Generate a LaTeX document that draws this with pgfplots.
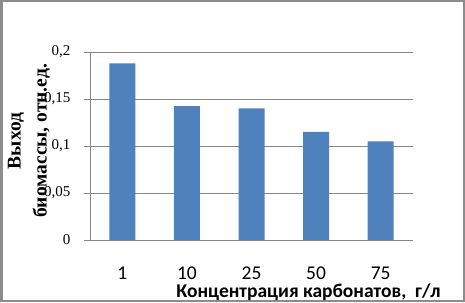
\documentclass[border=0pt]{standalone}
\usepackage{pgfplots}
\pgfplotsset{compat=1.18}
\usepackage{fontspec}
\setmainfont{Liberation Serif}
\newfontfamily\calibri{Carlito}
\definecolor{barblue}{HTML}{4F81BD}
\definecolor{gridgray}{HTML}{868686}
\definecolor{framegray}{HTML}{8C8C8C}
\begin{document}
\begin{tikzpicture}[x=1pt,y=1pt]
\useasboundingbox (0,0) rectangle (465,302);
\fill[white] (0,0) rectangle (465,302);
\draw[framegray, line width=2.5pt] (1.25,1.25) rectangle (463.75,300.75);
\begin{axis}[
  at={(90pt,62pt)}, anchor=south west,
  scale only axis, width=323pt, height=188pt,
  xmin=-0.5, xmax=4.5, ymin=0, ymax=0.2,
  axis x line*=bottom, axis y line*=left,
  axis line style={gridgray, line width=0.8pt, -},
  ytick={0,0.05,0.1,0.15,0.2},
  yticklabels={0,{0,05},{0,1},{0,15},{0,2}},
  xtick={0,1,2,3,4},
  xticklabels={1,10,25,50,75},
  major x tick style={draw=none},
  extra x ticks={-0.5,0.5,1.5,2.5,3.5,4.5},
  extra x tick labels={},
  extra x tick style={grid=none, major tick length=7pt, tick style={gridgray, line width=0.8pt}},
  tick align=outside,
  major y tick style={gridgray, line width=0.8pt},
  major tick length=6pt,
  ymajorgrids, grid style={gridgray, line width=0.8pt},
  yticklabel style={font=\fontsize{15}{17}\selectfont, xshift=-10pt},
  xticklabel style={font=\calibri\fontsize{19.5}{22}\selectfont, anchor=base, yshift=-33pt},
  ybar, bar width=26pt,
]
\addplot[fill=barblue, draw=none] coordinates {(0,0.188) (1,0.1425) (2,0.140) (3,0.115) (4,0.105)};
\end{axis}
\node[font=\calibri\bfseries\fontsize{19.5}{24}\selectfont, anchor=base] at (308.5,5) {Концентрация карбонатов,\ \ г/л};
\node[rotate=90, align=center, font=\bfseries\fontsize{19.5}{26}\selectfont] at (29,161) {Выход\\биомассы, отн.ед.};
\end{tikzpicture}
\end{document}
